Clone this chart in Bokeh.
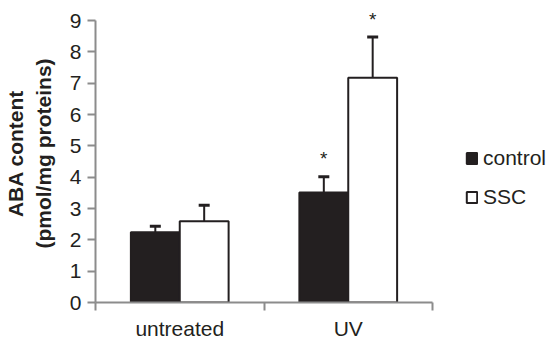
from bokeh.plotting import figure
from bokeh.models import (ColumnDataSource, Range1d, FixedTicker, Whisker, TeeHead,
                          Legend, LegendItem)
from bokeh.core.properties import value
from bokeh.embed import file_html
from bokeh.resources import INLINE

categories = ["untreated", "UV"]
series_names = ["control", "SSC"]
control_vals = [2.24, 3.51]
control_err = [0.19, 0.50]
ssc_vals = [2.59, 7.17]
ssc_err = [0.51, 1.30]
control_sig = ["", "*"]
ssc_sig = ["", "*"]
y_ticks = [0, 1, 2, 3, 4, 5, 6, 7, 8, 9]
y_title = ["ABA content", "(pmol/mg proteins)"]

FONT = "Liberation Sans"
GREY = "#8c8c8c"
INK = "#231f20"
BW = 0.29
Y_MAX = 9
FRAME_H = 298          # frame is taller than the axis so the top asterisk is not clipped
AXIS_H = 282           # pixel length of the 0..9 axis

idx = list(range(len(categories)))
src_c = ColumnDataSource(dict(
    x=[i + 0.5 - BW / 2 for i in idx], top=control_vals,
    upper=[v + e for v, e in zip(control_vals, control_err)], lower=control_vals,
    sig=control_sig))
src_s = ColumnDataSource(dict(
    x=[i + 0.5 + BW / 2 for i in idx], top=ssc_vals,
    upper=[v + e for v, e in zip(ssc_vals, ssc_err)], lower=ssc_vals,
    sig=ssc_sig))

p = figure(frame_width=337, frame_height=FRAME_H, output_backend="svg",
           toolbar_location=None,
           x_range=Range1d(0, len(categories)),
           y_range=Range1d(0, Y_MAX * FRAME_H / AXIS_H))
p.min_border_left = 95
p.min_border_right = 115
p.min_border_top = 4
p.min_border_bottom = 38
p.outline_line_color = None
p.xgrid.visible = False
p.ygrid.visible = False

r_c = p.vbar(x="x", top="top", bottom=0, width=BW, source=src_c,
             fill_color=INK, line_color=INK, line_width=2)
r_s = p.vbar(x="x", top="top", bottom=0, width=BW, source=src_s,
             fill_color="white", line_color=INK, line_width=2)

for src in (src_c, src_s):
    w = Whisker(base="x", upper="upper", lower="lower", source=src,
                line_color=INK, line_width=2,
                upper_head=TeeHead(size=11, line_color=INK, line_width=3),
                lower_head=None)
    p.add_layout(w)
    p.text(x="x", y="upper", text="sig", source=src, text_align="center",
           text_baseline="alphabetic", y_offset=-18, text_font=value(FONT),
           text_font_size="19px", text_color=INK)

# y axis
yax = p.yaxis[0]
yax.ticker = FixedTicker(ticks=y_ticks)
yax.bounds = (0, Y_MAX)
yax.minor_tick_line_color = None
yax.major_tick_in = 0
yax.major_tick_out = 8
yax.major_tick_line_color = GREY
yax.major_tick_line_width = 2
yax.axis_line_color = GREY
yax.axis_line_width = 2
yax.major_label_text_font = FONT
yax.major_label_text_font_size = "21px"
yax.major_label_text_color = INK
yax.major_label_standoff = 6
yax.axis_label = "\n".join(y_title)
yax.axis_label_text_font = FONT
yax.axis_label_text_font_size = "21px"
yax.axis_label_text_font_style = "bold"
yax.axis_label_text_color = INK
yax.axis_label_text_line_height = 1.2
yax.axis_label_standoff = 12

# x axis
xax = p.xaxis[0]
xax.ticker = FixedTicker(ticks=[i + 0.5 for i in idx],
                         minor_ticks=list(range(len(categories) + 1)))
xax.major_label_overrides = {i + 0.5: c for i, c in zip(idx, categories)}
xax.major_tick_line_color = None
xax.minor_tick_in = 0
xax.minor_tick_out = 8
xax.minor_tick_line_color = GREY
xax.minor_tick_line_width = 2
xax.axis_line_color = GREY
xax.axis_line_width = 2
xax.major_label_text_font = FONT
xax.major_label_text_font_size = "21px"
xax.major_label_text_color = INK
xax.major_label_standoff = 6

legend = Legend(items=[LegendItem(label=series_names[0], renderers=[r_c]),
                       LegendItem(label=series_names[1], renderers=[r_s])],
                location=(33, 93), orientation="vertical",
                glyph_width=13, glyph_height=14, label_standoff=5,
                spacing=15, padding=0, margin=0,
                border_line_color=None, background_fill_alpha=0,
                label_text_font=FONT, label_text_font_size="21px",
                label_text_color=INK, label_height=20)
p.add_layout(legend, "right")

open("out.html", "w").write(file_html(p, INLINE))
